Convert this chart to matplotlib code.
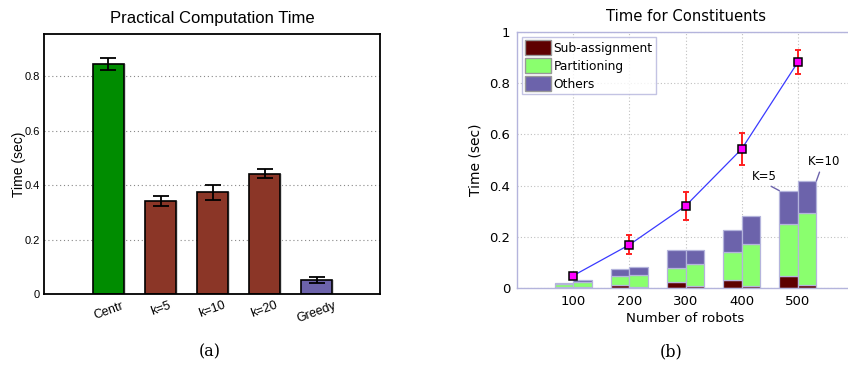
import matplotlib
matplotlib.use("Agg")
import matplotlib.pyplot as plt
import numpy as np
from matplotlib.patches import Patch

# ---- Data: left panel ----
methods = ["Centr", "k=5", "k=10", "k=20", "Greedy"]
method_times = [0.845, 0.342, 0.374, 0.442, 0.053]
method_errs = [0.022, 0.018, 0.027, 0.017, 0.011]
method_colors = ["#008c00", "#8b3627", "#8b3627", "#8b3627", "#6c63ab"]

# ---- Data: right panel ----
robots = [100, 200, 300, 400, 500]
sub_k5 = [0.001, 0.009, 0.023, 0.031, 0.046]
part_k5 = [0.012, 0.036, 0.056, 0.108, 0.202]
oth_k5 = [0.004, 0.028, 0.068, 0.086, 0.132]
sub_k10 = [0.002, 0.003, 0.005, 0.008, 0.010]
part_k10 = [0.021, 0.045, 0.086, 0.162, 0.282]
oth_k10 = [0.009, 0.033, 0.058, 0.109, 0.126]
centr_time = [0.047, 0.168, 0.320, 0.543, 0.883]
centr_err = [0.003, 0.038, 0.053, 0.062, 0.048]

C_SUB = "#5e0000"
C_PART = "#8aff6e"
C_OTH = "#6c63ab"
LAV = "#b4b4dc"

fig = plt.figure(figsize=(8.48, 3.67), dpi=100)
sans = ["Liberation Sans", "DejaVu Sans"]

# ---------------- Left panel ----------------
ax1 = fig.add_axes([44/848, (367-294)/367, 336/848, 260/367])
pos = np.arange(1, len(methods) + 1)
ax1.bar(pos + 0.03, method_times, width=0.6, color="#d8d8d8", edgecolor="none", zorder=1)
ax1.bar(pos, method_times, width=0.6, color=method_colors, edgecolor="black",
        linewidth=1.2, zorder=2)
ax1.errorbar(pos, method_times, yerr=method_errs, fmt="none", ecolor="black",
             elinewidth=1.3, capsize=6, capthick=1.3, zorder=3)
ax1.set_xlim(-0.24, 6.22)
ax1.set_ylim(0, 0.955)
ax1.set_yticks([0, 0.2, 0.4, 0.6, 0.8])
ax1.set_yticklabels(["0", "0.2", "0.4", "0.6", "0.8"], fontsize=8, family=sans)
ax1.set_xticks(pos)
ax1.set_xticklabels(methods, rotation=20, ha="center", fontsize=9, family=sans)
ax1.tick_params(axis="y", length=0, pad=3)
ax1.tick_params(axis="x", length=0, pad=4)
ax1.yaxis.grid(True, linestyle=(0, (1, 2.5)), color="#888888", linewidth=0.8)
ax1.set_axisbelow(True)
for s in ax1.spines.values():
    s.set_linewidth(1.3)
ax1.set_ylabel("Time (sec)", fontsize=10, family=sans, labelpad=-1)
ax1.set_title("Practical Computation Time", fontsize=12, family=sans, pad=8)

# ---------------- Right panel ----------------
ax2 = fig.add_axes([517/848, (367-287.7)/367, 337/848, 255.4/367])
w = 33
x = np.array(robots)
ax2.bar(x, sub_k5, width=-w, align="edge", color=C_SUB, edgecolor=LAV, linewidth=0.9)
ax2.bar(x, part_k5, width=-w, align="edge", bottom=sub_k5, color=C_PART, edgecolor=LAV, linewidth=0.9)
bot = np.array(sub_k5) + np.array(part_k5)
ax2.bar(x, oth_k5, width=-w, align="edge", bottom=bot, color=C_OTH, edgecolor=LAV, linewidth=0.9)
ax2.bar(x, sub_k10, width=w, align="edge", color=C_SUB, edgecolor=LAV, linewidth=0.9)
ax2.bar(x, part_k10, width=w, align="edge", bottom=sub_k10, color=C_PART, edgecolor=LAV, linewidth=0.9)
bot10 = np.array(sub_k10) + np.array(part_k10)
ax2.bar(x, oth_k10, width=w, align="edge", bottom=bot10, color=C_OTH, edgecolor=LAV, linewidth=0.9)

ax2.plot(x, centr_time, color="#3a3aff", linewidth=0.9, zorder=4)
ax2.errorbar(x, centr_time, yerr=centr_err, fmt="none", ecolor="#ff2020",
             elinewidth=1.4, capsize=2.5, capthick=1.4, zorder=5)
ax2.plot(x, centr_time, linestyle="none", marker="s", markersize=5.5,
         markerfacecolor="#ff00ff", markeredgecolor="black", markeredgewidth=1.1, zorder=6)

ax2.set_xlim(0, 600)
ax2.set_ylim(0, 1)
ax2.set_xticks(robots)
ax2.set_xticklabels([str(r) for r in robots], fontsize=9.5)
ax2.set_yticks([0, 0.2, 0.4, 0.6, 0.8, 1])
ax2.set_yticklabels(["0", "0.2", "0.4", "0.6", "0.8", "1"], fontsize=9.5)
ax2.tick_params(length=0, pad=5)
ax2.grid(True, linestyle=(0, (1, 2)), color="#c0c0c0", linewidth=0.8)
ax2.set_axisbelow(True)
for s in ax2.spines.values():
    s.set_color(LAV)
    s.set_linewidth(1.0)
ax2.set_xlabel("Number of robots", fontsize=9.6, labelpad=3)
ax2.set_ylabel("Time (sec)", fontsize=10, labelpad=5)
ax2.set_title("Time for Constituents", fontsize=10.6, pad=8)

handles = [Patch(facecolor=C_SUB, edgecolor="#999999"),
           Patch(facecolor=C_PART, edgecolor="#999999"),
           Patch(facecolor=C_OTH, edgecolor="#999999")]
leg = ax2.legend(handles, ["Sub-assignment", "Partitioning", "Others"], loc="upper left",
                 fontsize=8.8, frameon=True, fancybox=False, borderpad=0.25,
                 labelspacing=0.25, handlelength=2.1, handleheight=1.5,
                 handletextpad=0.25, borderaxespad=0.4)
leg.get_frame().set_edgecolor(LAV)
leg.get_frame().set_linewidth(1.0)

ax2.annotate("K=5", xy=(500 - w, bot[4] + oth_k5[4]), xytext=(441, 0.436),
             fontsize=8.5, ha="center", va="center",
             arrowprops=dict(arrowstyle="-", color=C_OTH, linewidth=1.0,
                             relpos=(0.5, 0.0), shrinkA=1, shrinkB=0))
ax2.annotate("K=10", xy=(500 + w, bot10[4] + oth_k10[4]), xytext=(547, 0.494),
             fontsize=8.5, ha="center", va="center",
             arrowprops=dict(arrowstyle="-", color=C_OTH, linewidth=1.0,
                             relpos=(0.4, 0.0), shrinkA=1, shrinkB=0))

# captions
fig.text(210/848, 1 - 352/367, "(a)", fontsize=11.5, family="DejaVu Serif", ha="center", va="center")
fig.text(671/848, 1 - 352/367, "(b)", fontsize=11.5, family="DejaVu Serif", ha="center", va="center")

fig.savefig("out.png", dpi=100)
